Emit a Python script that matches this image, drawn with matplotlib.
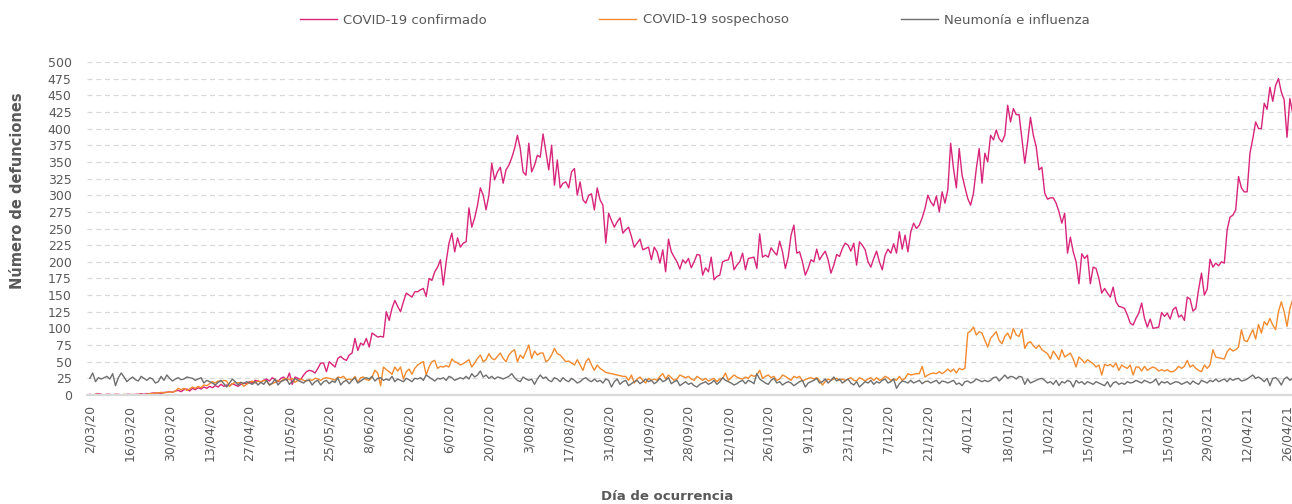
import numpy as np
import pandas as pd
import matplotlib
matplotlib.use("Agg")
import matplotlib.pyplot as plt
import matplotlib.dates as mdates

# defunciones diarias, desde el 2/03/2020
confirmado = [
    1, 0, 1, 2, 1, 0, 1, 1, 0, 1, 1, 0, 0, 1, 1, 0, 1, 1, 2, 1, 2, 2, 3, 3, 3, 2, 4, 4,
    5, 4, 6, 7, 5, 8, 9, 6, 10, 8, 11, 9, 12, 10,
    13, 11, 14, 12, 16, 13, 15, 14, 17, 15, 13, 16, 18, 17,
    20, 18, 22, 21, 19, 22, 24, 21, 26, 23, 20, 25, 27, 22,
    33, 16, 27, 25, 23, 30, 35, 37, 36, 33, 40, 48, 48, 35,
    50, 46, 42, 55, 58, 54, 52, 60, 63, 85, 67, 78, 75, 85,
    72, 93, 90, 87, 88, 87, 125, 112, 130, 142, 133, 125, 140, 153,
    150, 147, 155, 155, 158, 160, 148, 175, 172, 185, 192, 203, 165, 200,
    228, 243, 215, 236, 222, 228, 230, 281, 252, 266, 285, 311, 300, 278,
    300, 348, 323, 335, 342, 318, 338, 345, 356, 370, 390, 370, 335, 330,
    378, 335, 345, 360, 357, 392, 365, 338, 375, 315, 353, 311, 318, 320,
    311, 335, 340, 300, 320, 293, 288, 300, 302, 278, 311, 293, 285, 228,
    273, 262, 252, 260, 266, 243, 248, 252, 238, 222, 228, 234, 218, 220,
    222, 203, 222, 215, 198, 218, 185, 234, 215, 207, 200, 189, 203, 198,
    205, 191, 200, 211, 210, 180, 191, 185, 207, 173, 178, 180, 200, 202,
    203, 215, 188, 195, 200, 213, 188, 205, 206, 207, 190, 242, 207, 210,
    207, 221, 215, 210, 231, 215, 190, 207, 240, 255, 213, 215, 200, 180,
    190, 203, 200, 219, 203, 210, 216, 203, 183, 195, 211, 208, 220, 228,
    225, 216, 228, 195, 230, 225, 218, 200, 192, 205, 216, 200, 188, 210,
    219, 213, 227, 213, 245, 219, 240, 215, 245, 258, 250, 255, 266, 280,
    300, 290, 284, 299, 275, 305, 288, 308, 378, 340, 311, 370, 330, 312,
    295, 285, 303, 340, 370, 318, 363, 350, 390, 383, 398, 385, 380, 390,
    435, 410, 430, 421, 421, 385, 348, 380, 417, 390, 373, 338, 342, 303,
    294, 296, 296, 288, 275, 258, 273, 213, 237, 215, 200, 167, 212, 205,
    210, 167, 192, 190, 175, 153, 160, 153, 147, 162, 140, 133, 132, 130,
    120, 108, 105, 115, 123, 138, 115, 102, 114, 100, 101, 102, 124, 118,
    123, 114, 128, 132, 117, 120, 112, 147, 144, 126, 130, 159, 183, 150,
    159, 204, 192, 198, 194, 200, 198, 248, 267, 270, 278, 328, 311, 305,
    305, 363, 385, 410, 400, 400, 438, 429, 462, 441, 465, 475, 455, 443,
    387, 445, 423,
]

sospechoso = [
    0, 0, 1, 1, 0, 0, 1, 0, 0, 1, 0, 0, 1, 0, 0, 1, 0, 1, 1, 0, 1, 2, 2, 3, 3, 4, 3, 4,
    5, 4, 6, 10, 8, 10, 7, 9, 12, 10, 13, 11, 15, 14,
    17, 20, 18, 21, 20, 22, 21, 13, 17, 19, 18, 19, 13, 16,
    19, 21, 18, 21, 20, 22, 21, 15, 17, 19, 22, 20, 24, 25,
    23, 25, 19, 22, 24, 22, 21, 23, 22, 25, 24, 22, 25, 26,
    25, 24, 22, 27, 26, 28, 23, 24, 22, 28, 19, 26, 27, 23,
    22, 27, 37, 33, 14, 42, 38, 35, 31, 42, 36, 42, 24, 35,
    39, 31, 40, 45, 48, 50, 30, 42, 50, 52, 40, 43, 42, 44,
    42, 54, 50, 48, 45, 47, 50, 53, 42, 48, 55, 60, 50, 53,
    62, 55, 53, 58, 63, 55, 50, 60, 65, 68, 50, 60, 55, 65,
    75, 55, 66, 60, 63, 63, 50, 53, 60, 70, 62, 60, 55, 50,
    51, 48, 45, 53, 45, 37, 50, 55, 45, 37, 45, 40, 37, 34,
    33, 32, 31, 30, 29, 28, 28, 22, 30, 18, 24, 27, 22, 18,
    25, 22, 24, 22, 28, 32, 24, 30, 26, 22, 24, 30, 28, 26,
    28, 24, 22, 28, 25, 22, 25, 21, 23, 25, 20, 24, 25, 33,
    22, 26, 30, 27, 25, 24, 27, 25, 30, 28, 30, 37, 25, 28,
    30, 26, 28, 22, 24, 30, 28, 25, 22, 28, 26, 28, 21, 23,
    25, 26, 24, 26, 22, 15, 20, 24, 22, 24, 25, 22, 24, 22,
    24, 26, 22, 21, 26, 24, 21, 24, 26, 22, 26, 22, 24, 28,
    26, 22, 24, 22, 28, 22, 25, 32, 30, 31, 32, 32, 43, 27,
    30, 32, 33, 32, 35, 32, 35, 39, 35, 39, 33, 40, 38, 40,
    93, 96, 102, 90, 95, 93, 82, 72, 85, 90, 95, 82, 77, 88,
    93, 84, 100, 90, 88, 99, 70, 78, 80, 74, 70, 75, 68, 65,
    62, 54, 66, 60, 53, 68, 57, 60, 63, 54, 42, 57, 53, 48,
    53, 50, 47, 42, 45, 30, 46, 44, 46, 42, 48, 37, 45, 42,
    40, 45, 30, 42, 42, 36, 43, 37, 40, 42, 40, 36, 38, 36,
    38, 35, 35, 38, 43, 40, 43, 52, 42, 45, 40, 37, 35, 45,
    40, 45, 68, 57, 56, 55, 54, 65, 70, 66, 68, 72, 98, 82,
    80, 89, 98, 84, 106, 93, 110, 105, 115, 105, 98, 125, 140, 125,
    103, 130, 143,
]

neumonia = [
    25, 33, 20, 26, 24, 26, 28, 24, 32, 14, 26, 33, 27, 20, 24, 27, 23, 21, 28, 25, 22, 26, 24, 18, 20, 28, 22, 30,
    25, 21, 24, 26, 23, 24, 27, 26, 25, 22, 24, 26, 18, 22,
    20, 18, 15, 19, 22, 17, 12, 18, 24, 20, 15, 19, 17, 20,
    18, 16, 20, 15, 19, 16, 22, 15, 18, 24, 15, 20, 22, 24,
    16, 20, 25, 22, 20, 18, 22, 22, 15, 20, 22, 15, 20, 22,
    17, 21, 19, 26, 15, 20, 22, 17, 22, 26, 18, 21, 24, 26,
    24, 28, 21, 25, 26, 22, 24, 22, 28, 20, 24, 22, 20, 25,
    23, 20, 25, 24, 26, 22, 30, 27, 24, 21, 25, 24, 26, 22,
    28, 26, 22, 24, 26, 24, 28, 24, 32, 27, 30, 36, 27, 30,
    25, 28, 24, 27, 26, 24, 26, 28, 32, 26, 22, 20, 27, 24,
    22, 24, 16, 24, 30, 25, 27, 22, 20, 26, 24, 20, 26, 22,
    20, 25, 22, 18, 20, 24, 26, 22, 20, 24, 20, 22, 18, 24,
    22, 12, 20, 24, 16, 20, 22, 14, 17, 20, 22, 17, 20, 24,
    20, 22, 17, 20, 25, 20, 22, 26, 17, 20, 22, 14, 17, 20,
    16, 18, 14, 12, 16, 18, 20, 16, 18, 22, 16, 20, 26, 22,
    20, 18, 15, 17, 20, 22, 17, 22, 20, 17, 32, 24, 21, 18,
    16, 22, 25, 18, 20, 15, 18, 20, 18, 14, 17, 20, 22, 12,
    18, 20, 22, 25, 18, 20, 24, 18, 22, 27, 21, 24, 18, 21,
    24, 18, 15, 20, 12, 16, 20, 18, 22, 16, 20, 18, 22, 24,
    18, 20, 24, 10, 17, 21, 20, 18, 22, 18, 20, 22, 17, 20,
    21, 18, 20, 22, 17, 21, 20, 18, 20, 22, 16, 18, 14, 20,
    21, 18, 20, 24, 22, 20, 22, 20, 22, 26, 27, 21, 25, 30,
    25, 28, 27, 24, 28, 27, 16, 24, 18, 20, 22, 24, 25, 22,
    18, 20, 16, 22, 14, 20, 18, 22, 20, 12, 22, 18, 20, 16,
    20, 18, 16, 20, 18, 16, 14, 20, 12, 18, 20, 16, 18, 16,
    20, 18, 19, 22, 20, 18, 22, 20, 18, 20, 24, 15, 20, 18,
    20, 16, 18, 20, 19, 16, 18, 20, 16, 21, 18, 16, 22, 20,
    18, 22, 20, 24, 20, 22, 24, 20, 25, 22, 24, 25, 21, 22,
    24, 27, 30, 25, 27, 24, 20, 25, 14, 25, 26, 22, 15, 24,
    27, 22, 25,
]

series = ["COVID-19 confirmado", "COVID-19 sospechoso", "Neumonía e influenza"]
colores = ["#D8247A", "#F28A2E", "#6F6F6F"]

inicio = pd.Timestamp("2020-03-02")
fin_ticks = pd.Timestamp("2021-04-26")
yticks = list(range(0, 501, 25))

fig = plt.figure(figsize=(12.92, 5.04), dpi=100)
ax = fig.add_axes([87 / 1292, 109 / 504, 1 - 87 / 1292, 333 / 504])

for nombre, datos, col in zip(series, [confirmado, sospechoso, neumonia], colores):
    fechas = pd.date_range(inicio, periods=len(datos), freq="D")
    ax.plot(fechas, datos, color=col, lw=1.0, label=nombre)

ax.set_ylim(0, 500)
ax.set_yticks(yticks)
ax.set_xlim(inicio - pd.Timedelta(days=1), inicio + pd.Timedelta(days=421.75))
ticks = pd.date_range(inicio, fin_ticks, freq="14D")
ax.set_xticks(ticks)
ax.set_xticklabels([f"{t.day}/{t.month:02d}/{t.strftime('%y')}" for t in ticks],
                   rotation=90, va="top", ha="center")

ax.grid(axis="y", color="#D9D9D9", ls=(0, (4, 3)), lw=0.9)
ax.set_axisbelow(True)
for s in ["top", "right", "left"]:
    ax.spines[s].set_visible(False)
ax.spines["bottom"].set_color("#D9D9D9")
ax.spines["bottom"].set_linewidth(1.6)
ax.tick_params(axis="both", length=0, labelsize=9, colors="#595959")
ax.tick_params(axis="y", pad=11)
ax.tick_params(axis="x", pad=7)

fig.text(18 / 1292, 1 - 191 / 504, "Número de defunciones", rotation=90,
         ha="center", va="center", fontsize=10.5, fontweight="bold", color="#595959")
fig.text(667 / 1292, 1 - 496 / 504, "Día de ocurrencia",
         ha="center", va="center", fontsize=9.5, fontweight="bold", color="#595959")

leg = fig.legend(loc="center", bbox_to_anchor=(695 / 1292, 1 - 20 / 504), ncol=3,
                 frameon=False, fontsize=9.5, handlelength=2.8, handletextpad=0.5,
                 columnspacing=8.5)
for t in leg.get_texts():
    t.set_color("#595959")

fig.savefig("out.png", dpi=100)
